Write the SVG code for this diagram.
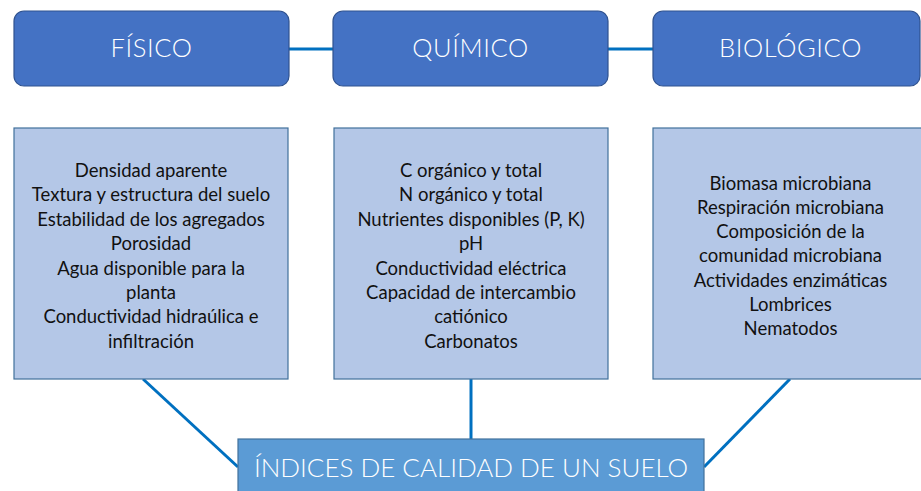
<svg xmlns="http://www.w3.org/2000/svg" width="921" height="491" viewBox="0 0 921 491">
<style>
.top{fill:#4472C4;stroke:#2F528F;stroke-width:1.2}
.box{fill:#B4C7E7;stroke:#41719C;stroke-width:1.2}
.idx{fill:#5B9BD5;stroke:#41719C;stroke-width:1.2}
.conn{stroke:#0070C0;stroke-width:3;fill:none}
.tt{font-family:Lato,"Liberation Sans",sans-serif;font-weight:300;font-size:25.5px;letter-spacing:0.6px;fill:#fff;text-anchor:middle}
.bt{font-family:Lato,"Liberation Sans",sans-serif;font-size:18.5px;fill:#111;text-anchor:middle}
.it{font-family:Lato,"Liberation Sans",sans-serif;font-weight:300;font-size:26px;fill:#fff;text-anchor:middle}
</style>
<rect width="921" height="491" fill="#fff"/>
<g id="connectors">
<line class="conn" x1="289" y1="49" x2="333" y2="49"/>
<line class="conn" x1="608" y1="49" x2="653" y2="49"/>
<line class="conn" x1="143" y1="379" x2="238" y2="467"/>
<line class="conn" x1="471" y1="379" x2="471" y2="439"/>
<line class="conn" x1="790" y1="379" x2="704" y2="467"/>
</g>
<g id="fisico">
<rect class="top" x="14" y="11" width="275" height="75" rx="10"/>
<text class="tt" x="151.5" y="57">FÍSICO</text>
</g>
<g id="quimico">
<rect class="top" x="333" y="11" width="275" height="75" rx="10"/>
<text class="tt" x="470.5" y="57">QUÍMICO</text>
</g>
<g id="biologico">
<rect class="top" x="653" y="11" width="267" height="75" rx="10"/>
<text class="tt" x="790.5" y="57">BIOLÓGICO</text>
</g>
<g id="fisico-list">
<rect class="box" x="14" y="128" width="274" height="251"/>
<text class="bt" x="151" y="177">Densidad aparente</text>
<text class="bt" x="151" y="201">Textura y estructura del suelo</text>
<text class="bt" x="151" y="225.5">Estabilidad de los agregados</text>
<text class="bt" x="151" y="249.5">Porosidad</text>
<text class="bt" x="151" y="274.5">Agua disponible para la</text>
<text class="bt" x="151" y="298.5">planta</text>
<text class="bt" x="151" y="323">Conductividad hidraúlica e</text>
<text class="bt" x="151" y="347.5">infiltración</text>
</g>
<g id="quimico-list">
<rect class="box" x="334" y="128" width="274" height="251"/>
<text class="bt" x="471" y="177">C orgánico y total</text>
<text class="bt" x="471" y="201">N orgánico y total</text>
<text class="bt" x="471" y="225.5">Nutrientes disponibles (P, K)</text>
<text class="bt" x="471" y="249.5">pH</text>
<text class="bt" x="471" y="274.5">Conductividad eléctrica</text>
<text class="bt" x="471" y="298.5">Capacidad de intercambio</text>
<text class="bt" x="471" y="323">catiónico</text>
<text class="bt" x="471" y="347.5">Carbonatos</text>
</g>
<g id="biologico-list">
<rect class="box" x="653" y="128" width="275" height="251"/>
<text class="bt" x="790.5" y="189.5">Biomasa microbiana</text>
<text class="bt" x="790.5" y="213.5">Respiración microbiana</text>
<text class="bt" x="790.5" y="238">Composición de la</text>
<text class="bt" x="790.5" y="262">comunidad microbiana</text>
<text class="bt" x="790.5" y="286.5">Actividades enzimáticas</text>
<text class="bt" x="790.5" y="310.5">Lombrices</text>
<text class="bt" x="790.5" y="335">Nematodos</text>
</g>
<g id="indices">
<rect class="idx" x="238" y="439" width="466" height="60"/>
<text class="it" x="471" y="477">ÍNDICES DE CALIDAD DE UN SUELO</text>
</g>
</svg>
